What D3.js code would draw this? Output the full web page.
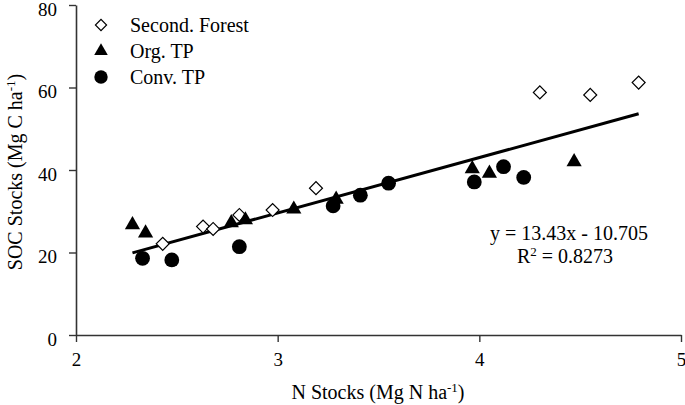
<!DOCTYPE html>
<html><head><meta charset="utf-8">
<script src="https://cdn.jsdelivr.net/npm/d3@7"></script>
<style>
html,body{margin:0;padding:0;background:#fff;}
svg text{font-family:"Liberation Serif","Times New Roman",serif !important;fill:#000;}
</style></head>
<body><svg id="c" width="685" height="405"></svg>
<script>
// Data
const seriesNames = ["Second. Forest", "Org. TP", "Conv. TP"];
const forestX = [2.43, 2.63, 2.68, 2.81, 2.975, 3.19, 4.30, 4.55, 4.79];
const forestY = [22.1, 26.3, 25.7, 29.1, 30.3, 35.6, 58.8, 58.2, 61.2];
const orgX = [2.28, 2.345, 2.77, 2.84, 3.08, 3.29, 3.965, 4.05, 4.47];
const orgY = [26.7, 24.7, 27.2, 27.9, 30.5, 32.9, 40.3, 39.2, 42.0];
const convX = [2.33, 2.475, 2.81, 3.275, 3.41, 3.55, 3.975, 4.12, 4.22];
const convY = [18.6, 18.2, 21.4, 31.3, 33.9, 36.8, 37.1, 40.8, 38.2];
const slope = 13.43, intercept = -10.705;
const eqText = "y = 13.43x - 10.705";
const r2Text = " = 0.8273";
const xTicks = [2, 3, 4, 5];
const yTicks = [0, 20, 40, 60, 80];

const svg = d3.select("#c");
const x = d3.scaleLinear().domain([2, 5]).range([76, 681]);
const y = d3.scaleLinear().domain([0, 80]).range([335, 5]);

// axes
const xAxis = svg.append("g").attr("transform", "translate(0,335)")
  .call(d3.axisBottom(x).tickValues(xTicks).tickSize(7).tickSizeOuter(0).tickPadding(11).tickFormat(d3.format("d")));
const yAxis = svg.append("g").attr("transform", "translate(76,0)")
  .call(d3.axisLeft(y).tickValues(yTicks).tickSize(7).tickSizeOuter(0).tickPadding(12).tickFormat(d3.format("d")));
[xAxis, yAxis].forEach(g => {
  g.attr("font-family", null).attr("font-size", null);
  g.selectAll("path.domain").attr("stroke", "#333").attr("stroke-width", 1.6);
  g.selectAll(".tick line").attr("stroke", "#333").attr("stroke-width", 1.4);
  g.selectAll(".tick text").style("font-size", "19px").style("font-family", "'Liberation Serif', serif").attr("fill", "#000");
});
yAxis.selectAll(".tick text").attr("dy", "0.54em");

// trend line
const allX = forestX.concat(orgX, convX);
const xr = d3.extent(allX);
const line = d3.line().x(d => x(d)).y(d => y(slope * d + intercept));
svg.append("path").attr("d", line(xr)).attr("fill", "none").attr("stroke", "#000").attr("stroke-width", 3);

// symbols
const diamond = d3.symbol().type(d3.symbolSquare).size(84);
const tri = d3.symbol().type(d3.symbolTriangle).size(100);
const circ = d3.symbol().type(d3.symbolCircle).size(172);

svg.append("g").selectAll("path").data(forestX.map((v, i) => [v, forestY[i]])).join("path")
  .attr("d", diamond).attr("transform", d => `translate(${x(d[0])},${y(d[1])}) rotate(45)`)
  .attr("fill", "#fff").attr("stroke", "#000").attr("stroke-width", 1.2);
svg.append("g").selectAll("path").data(orgX.map((v, i) => [v, orgY[i]])).join("path")
  .attr("d", tri).attr("transform", d => `translate(${x(d[0])},${y(d[1])})`).attr("fill", "#000");
svg.append("g").selectAll("path").data(convX.map((v, i) => [v, convY[i]])).join("path")
  .attr("d", circ).attr("transform", d => `translate(${x(d[0])},${y(d[1])})`).attr("fill", "#000");

// legend
const legY = [25, 51, 77];
const leg = svg.append("g");
leg.append("path").attr("d", d3.symbol().type(d3.symbolSquare).size(62)()).attr("transform", `translate(101,${legY[0]}) rotate(45)`)
  .attr("fill", "#fff").attr("stroke", "#000").attr("stroke-width", 1.2);
leg.append("path").attr("d", d3.symbol().type(d3.symbolTriangle).size(80)()).attr("transform", `translate(101,${legY[1]})`).attr("fill", "#000");
leg.append("path").attr("d", d3.symbol().type(d3.symbolCircle).size(140)()).attr("transform", `translate(101,${legY[2]})`).attr("fill", "#000");
seriesNames.forEach((n, i) => {
  leg.append("text").attr("x", 130).attr("y", legY[i]).attr("dy", "0.35em").attr("font-size", 20).text(n);
});

// equation
svg.append("text").attr("x", 648).attr("y", 240).attr("text-anchor", "end").attr("font-size", 20).text(eqText);
const r2 = svg.append("text").attr("x", 613).attr("y", 263).attr("text-anchor", "end").attr("font-size", 20);
r2.append("tspan").text("R");
r2.append("tspan").attr("font-size", 13).attr("dy", -7).text("2");
r2.append("tspan").attr("dy", 7).text(r2Text);

// axis titles
const xt = svg.append("text").attr("x", 378).attr("y", 399).attr("text-anchor", "middle").attr("font-size", 20);
xt.append("tspan").text("N Stocks (Mg N ha");
xt.append("tspan").attr("font-size", 13).attr("dy", -7).text("-1");
xt.append("tspan").attr("dy", 7).text(")");

const yt = svg.append("text").attr("transform", "translate(22,172) rotate(-90)").attr("text-anchor", "middle").attr("font-size", 20);
yt.append("tspan").text("SOC Stocks (Mg C ha");
yt.append("tspan").attr("font-size", 13).attr("dy", -7).text("-1");
yt.append("tspan").attr("dy", 7).text(")");
</script></body></html>
